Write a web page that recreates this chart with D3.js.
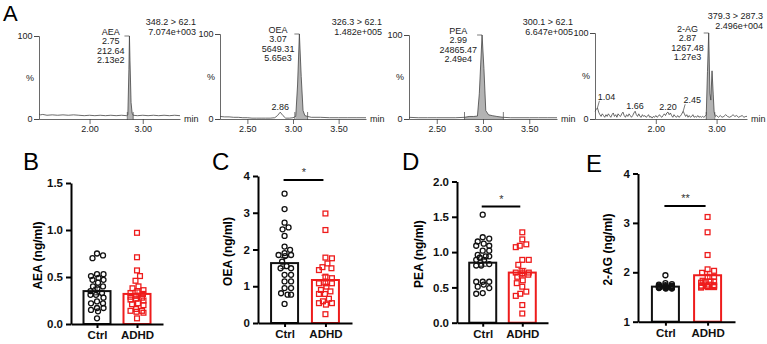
<!DOCTYPE html>
<html>
<head>
<meta charset="utf-8">
<script src="https://cdn.jsdelivr.net/npm/d3@7"></script>
<style>
  body { margin: 0; background: #fff; }
  svg { display: block; font-family: Arial, "Liberation Sans", sans-serif; }
</style>
</head>
<body>
<svg id="fig" width="767" height="344"></svg>
<script>
// ---------- panel A : MRM chromatograms, [time (min), intensity (%)] ----------
const aeaTrace = [[1.05,6],[1.08,5],[1.12,5.5],[1.2,4.5],[1.3,5],[1.4,4.5],[1.5,5],[1.6,4.5],[1.7,5],[1.8,4.5],[1.9,4],
  [2.0,4.5],[2.1,4],[2.2,4.5],[2.3,4],[2.4,4.5],[2.5,4],[2.6,4.5],[2.7,4],[2.72,5],[2.74,60],[2.75,100],[2.76,70],
  [2.78,20],[2.80,7],[2.82,4.5],[2.9,4],[3.0,4.5],[3.1,4],[3.2,4.5],[3.3,4],[3.4,4.5],[3.5,4],[3.6,4.5],[3.7,4]];
const oeaTrace = [[2.2,3],[2.25,2.5],[2.3,2.5],[2.35,2],[2.4,2],[2.45,1.5],[2.5,1.5],[2.55,1],[2.6,1],[2.65,1],[2.7,1],
  [2.75,1],[2.8,1.5],[2.83,4],[2.86,8],[2.89,4],[2.92,1],[2.96,1],[3.0,1.5],[3.03,3],[3.05,40],[3.07,100],[3.09,50],
  [3.11,10],[3.13,4],[3.16,3],[3.2,2],[3.3,2],[3.4,1.5],[3.5,1.5],[3.6,1.5],[3.7,1.5],[3.8,1.5]];
const peaTrace = [[2.2,2],[2.3,1.5],[2.4,1.5],[2.5,1.5],[2.6,1.5],[2.7,1.5],[2.8,2],[2.85,3],[2.9,3],[2.94,3.5],[2.96,30],
  [2.99,100],[3.01,60],[3.03,10],[3.06,5],[3.1,4],[3.15,3],[3.22,2],[3.3,1.5],[3.4,1.5],[3.5,1.5],[3.6,1.5],[3.7,1.5],[3.8,1.5]];
const agTrace = [[1.00,9],[1.02,11],[1.04,13],[1.06,8],[1.08,5],[1.10,3],[1.12,6],[1.14,4],[1.16,2],[1.18,5],[1.20,3],
  [1.22,6],[1.24,4],[1.26,2],[1.28,5],[1.30,7],[1.32,3],[1.34,5],[1.36,2],[1.38,6],[1.40,4],[1.42,3],[1.44,6],[1.46,8],
  [1.48,4],[1.50,2],[1.52,5],[1.54,3],[1.56,6],[1.58,4],[1.60,2],[1.62,4],[1.64,7],[1.66,9],[1.68,5],[1.70,3],[1.72,6],
  [1.74,3],[1.76,2],[1.78,5],[1.80,3],[1.82,4],[1.84,2],[1.86,3],[1.88,5],[1.90,2],[1.92,3],[1.94,1],[1.96,3],[1.98,2],
  [2.00,4],[2.02,2],[2.04,3],[2.06,5],[2.08,3],[2.10,2],[2.12,4],[2.14,6],[2.16,4],[2.18,7],[2.20,8],[2.22,5],[2.24,7],
  [2.26,4],[2.28,2],[2.30,5],[2.32,3],[2.34,2],[2.36,4],[2.38,2],[2.40,3],[2.42,5],[2.45,9],[2.47,6],[2.49,3],[2.51,5],
  [2.53,2],[2.55,4],[2.57,2],[2.59,3],[2.61,5],[2.63,2],[2.65,3],[2.67,2],[2.69,4],[2.71,2],[2.73,3],[2.75,2],[2.77,3],
  [2.79,2],[2.81,3],[2.83,5],[2.85,55],[2.87,100],[2.89,30],[2.905,22],[2.925,56],[2.945,28],[2.96,8],[2.98,3],[3.00,4],
  [3.03,2],[3.06,4],[3.09,2],[3.12,3],[3.15,5],[3.18,3],[3.21,2],[3.24,3],[3.27,5],[3.30,3],[3.33,4],[3.36,2],[3.39,3],
  [3.42,4],[3.45,2],[3.48,3],[3.50,3]];

const chromNames   = ["AEA", "OEA", "PEA", "2-AG"];
const chromRT      = [2.75, 3.07, 2.99, 2.87];
const chromArea    = ["212.64", "5649.31", "24865.47", "1267.48"];
const chromHeight  = ["2.13e2", "5.65e3", "2.49e4", "1.27e3"];
const chromMRM     = ["348.2 > 62.1", "326.3 > 62.1", "300.1 > 62.1", "379.3 > 287.3"];
const chromMax     = ["7.074e+003", "1.482e+005", "6.647e+005", "2.496e+004"];
const chromDomains = [[1.05, 3.7], [2.2, 3.8], [2.2, 3.8], [1.0, 3.5]];
const chromTicks   = [[2, 3], [2.5, 3, 3.5], [2.5, 3, 3.5], [2, 3]];
const chromFill    = [[2.71, 2.82], [3.02, 3.16], [2.80, 3.22], [2.83, 2.97]];
const minorPeaks   = [[], [2.86], [], [1.04, 1.66, 2.20, 2.45]];

// ---------- panels B-E : concentrations (ng/ml) ----------
const groups = ["Ctrl", "ADHD"];
const aeaCtrl = [0.75,0.73,0.70,0.53,0.51,0.53,0.49,0.47,0.47,0.44,0.40,0.40,0.38,0.35,0.33,0.31,0.31,0.28,0.24,0.22,0.22,0.17,0.15,0.17,0.135,0.06];
const aeaAdhd = [0.97,0.71,0.57,0.51,0.46,0.40,0.38,0.36,0.35,0.33,0.32,0.30,0.29,0.28,0.27,0.26,0.25,0.22,0.21,0.20,0.16,0.14,0.14,0.13,0.12,0.06];
const oeaCtrl = [3.52,3.10,2.73,2.60,2.55,2.37,2.08,1.99,1.90,1.85,1.85,1.82,1.67,1.55,1.49,1.49,1.31,1.31,1.13,1.13,0.95,0.95,0.81,0.77,0.77,0.52];
const oeaAdhd = [2.98,2.53,1.78,1.76,1.62,1.52,1.49,1.44,1.26,1.22,1.08,1.08,1.08,0.99,0.90,0.86,0.79,0.79,0.66,0.59,0.54,0.54,0.50,0.24];
const peaCtrl = [1.53,1.21,1.19,1.15,1.12,1.09,1.09,1.02,1.02,0.96,0.94,0.94,0.92,0.89,0.89,0.83,0.81,0.81,0.58,0.58,0.58,0.54,0.51,0.49,0.42,0.41];
const peaAdhd = [1.28,1.18,1.11,1.09,1.07,0.89,0.89,0.82,0.73,0.71,0.71,0.70,0.68,0.65,0.60,0.56,0.51,0.44,0.41,0.38,0.25,0.13];
const agCtrl  = [1.94,1.78,1.76,1.75,1.74,1.73,1.73,1.72,1.72,1.71,1.71,1.71,1.70,1.70,1.70,1.70,1.69,1.69,1.69,1.68,1.68,1.68,1.67,1.67];
const agAdhd  = [3.12,2.81,2.35,2.06,2.03,1.99,1.91,1.91,1.83,1.81,1.81,1.80,1.79,1.75,1.74,1.73,1.72,1.72,1.71,1.70,1.70,1.69];
// bar = mean, whisker = SEM  [Ctrl, ADHD]
const aeaMean = [0.35, 0.32], aeaSem = [0.04, 0.04];
const oeaMean = [1.63, 1.17], oeaSem = [0.15, 0.13];
const peaMean = [0.85, 0.71], peaSem = [0.05, 0.06];
const agMean  = [1.71, 1.94], agSem  = [0.01, 0.08];
const sigStars  = [null, "*", "*", "**"];
const sigLevels = [null, 3.89, 1.645, 3.34];

const svg = d3.select("#fig");
const RED = "#ee1c1c";

// panel letters
[["A", 3, 21, 22], ["B", 23, 170, 24], ["C", 212, 170, 24], ["D", 402, 170, 24], ["E", 586, 172, 24]]
  .forEach(([t, x, y, s]) => svg.append("text").attr("x", x).attr("y", y).attr("font-size", s).text(t));

// ---------------- chromatograms ----------------
const traces = [aeaTrace, oeaTrace, peaTrace, agTrace];
const chromX = [[39, 180], [220, 366], [409, 557], [595, 747]];
const chromTop = [36, 34, 35, 33];
const chromBottom = 119;
const minorStep = [0.1, 0.05, 0.05, 0.1];

traces.forEach((tr, i) => {
  const x = d3.scaleLinear().domain(chromDomains[i]).range(chromX[i]);
  const y = d3.scaleLinear().domain([0, 100]).range([chromBottom, chromTop[i]]);
  const g = svg.append("g").attr("font-size", 9).attr("fill", "#222");

  // shaded integrated peak
  const f = chromFill[i];
  g.append("path")
    .datum(tr.filter(d => d[0] >= f[0] && d[0] <= f[1]))
    .attr("fill", "#b3b3b3")
    .attr("d", d3.area().x(d => x(d[0])).y0(y(0)).y1(d => y(d[1])));
  f.forEach(t => g.append("line").attr("x1", x(t)).attr("x2", x(t))
    .attr("y1", y(0) + 1).attr("y2", y(0) - 7).attr("stroke", "#444").attr("stroke-width", 0.7));

  g.append("path").datum(tr)
    .attr("fill", "none").attr("stroke", "#444").attr("stroke-width", 0.8)
    .attr("d", d3.line().x(d => x(d[0])).y(d => y(d[1])));

  // y axis
  const ya = g.append("g").attr("transform", `translate(${chromX[i][0]},0)`);
  ya.call(d3.axisLeft(y).tickValues(d3.range(0, 101, 10)).tickSize(2.5).tickFormat(""));
  ya.call(d3.axisLeft(y).tickValues([0, 100]).tickSize(5).tickPadding(1.5));
  ya.selectAll("text").attr("font-size", 9).attr("fill", "#222");
  ya.selectAll("path,line").attr("stroke", "#444").attr("stroke-width", 0.8);
  g.append("text").attr("x", chromX[i][0] - 5).attr("y", y(50) + 3).attr("text-anchor", "end").text("%");

  // x axis
  const d0 = chromDomains[i][0], d1 = chromDomains[i][1], st = minorStep[i];
  const minor = d3.range(Math.ceil(d0 / st - 1e-6), Math.floor(d1 / st + 1e-6) + 1).map(k => +(k * st).toFixed(2));
  const xa = g.append("g").attr("transform", `translate(0,${chromBottom})`);
  xa.call(d3.axisBottom(x).tickValues(minor).tickSize(3).tickFormat("").tickSizeOuter(0));
  xa.call(d3.axisBottom(x).tickValues(chromTicks[i]).tickSize(5).tickPadding(2).tickFormat(d3.format(".2f")).tickSizeOuter(0));
  xa.selectAll("text").attr("font-size", 9).attr("fill", "#222");
  xa.selectAll("path,line").attr("stroke", "#444").attr("stroke-width", 0.8);
  g.append("text").attr("x", chromX[i][1] + 4).attr("y", chromBottom + 3).text("min");

  // transition + max intensity
  const rx = chromX[i][1] + 16;
  const ry = i === 3 ? 19 : 25;
  g.append("text").attr("x", rx).attr("y", ry).attr("text-anchor", "end").text(chromMRM[i]);
  g.append("text").attr("x", rx).attr("y", ry + 9.5).attr("text-anchor", "end").text(chromMax[i]);

  // main peak label
  const px = x(chromRT[i]), py = y(100);
  const lines = [chromNames[i], chromRT[i].toFixed(2), chromArea[i], chromHeight[i]];
  const lab = g.append("g");
  lines.forEach((t, k) => lab.append("text").attr("y", py - 1 + k * 9.4).attr("text-anchor", "middle").text(t));
  const w = d3.max(lab.selectAll("text").nodes(), n => n.getComputedTextLength());
  lab.attr("transform", `translate(${px - 5 - w / 2},0)`);
  g.append("line").attr("x1", px - 5).attr("x2", px).attr("y1", py).attr("y2", py)
    .attr("stroke", "#444").attr("stroke-width", 0.7);

  // small labelled peaks
  minorPeaks[i].forEach((rt, k) => {
    const pt = tr.reduce((a, b) => Math.abs(b[0] - rt) < Math.abs(a[0] - rt) ? b : a);
    const shift = (i === 3 && (k === 0 || k === 3)) ? 9 : 0;
    const lift = shift ? 8 : 2;
    const tx = x(rt) + shift, ty = y(pt[1]) - lift;
    g.append("text").attr("x", tx).attr("y", ty).attr("text-anchor", "middle").text(rt.toFixed(2));
    if (shift) {
      g.append("line").attr("x1", x(rt)).attr("y1", y(pt[1]))
        .attr("x2", tx - 7).attr("y2", ty + 1).attr("stroke", "#444").attr("stroke-width", 0.7);
    }
  });
});

// ---------------- bar + scatter panels ----------------
const barPanels = [
  { ctrl: aeaCtrl, adhd: aeaAdhd, mean: aeaMean, sem: aeaSem, dom: [0, 1.5], ticks: [0, 0.5, 1, 1.5], fmt: ".1f",
    label: "AEA (ng/ml)", x0: 71, x1: 163, top: 183, bottom: 324, lx: 42 },
  { ctrl: oeaCtrl, adhd: oeaAdhd, mean: oeaMean, sem: oeaSem, dom: [0, 4], ticks: [0, 1, 2, 3, 4], fmt: "d",
    label: "OEA (ng/ml)", x0: 258, x1: 352, top: 176, bottom: 323, lx: 232 },
  { ctrl: peaCtrl, adhd: peaAdhd, mean: peaMean, sem: peaSem, dom: [0, 2], ticks: [0, 0.5, 1, 1.5, 2], fmt: ".1f",
    label: "PEA (ng/ml)", x0: 457, x1: 548, top: 181.5, bottom: 322.7, lx: 423 },
  { ctrl: agCtrl, adhd: agAdhd, mean: agMean, sem: agSem, dom: [1, 4], ticks: [1, 2, 3, 4], fmt: "d",
    label: "2-AG (ng/ml)", x0: 638, x1: 735, top: 173.5, bottom: 321.7, lx: 612 }
];

// simple beeswarm: nearest free horizontal spot to the group centre
function swarm(values, y, cx, minD, maxOff) {
  const placed = [];
  values.map(v => ({ v, y: y(v) })).sort((a, b) => a.y - b.y).forEach(p => {
    let bestX = cx, bestCost = Infinity;
    for (let k = 0; k <= maxOff * 2; k++) {
      const off = (k % 2 ? 1 : -1) * Math.ceil(k / 2) * 0.5;
      const xx = cx + off;
      const cost = placed.reduce((s, q) => s + Math.max(0, minD - Math.hypot(q.x - xx, q.y - p.y)), 0);
      if (cost < bestCost - 1e-9) { bestCost = cost; bestX = xx; }
      if (cost === 0) break;
    }
    placed.push({ x: bestX, y: p.y, v: p.v });
  });
  return placed;
}

barPanels.forEach((P, i) => {
  const g = svg.append("g");
  const y = d3.scaleLinear().domain(P.dom).range([P.bottom, P.top]);
  const x = d3.scalePoint().domain(groups).range([P.x0, P.x1]).padding(0.65);
  const bw = 27;
  const colors = ["#111", RED];

  // bars
  groups.forEach((gname, k) => {
    g.append("rect").attr("x", x(gname) - bw / 2).attr("width", bw)
      .attr("y", y(P.mean[k])).attr("height", y(P.dom[0]) - y(P.mean[k]))
      .attr("fill", "none").attr("stroke", colors[k]).attr("stroke-width", 2);
  });

  // points
  const ctrlPts = swarm(P.ctrl, y, x("Ctrl"), 6.2, 13);
  g.selectAll(".c").data(ctrlPts).join("circle")
    .attr("cx", d => d.x).attr("cy", d => d.y).attr("r", 2.5)
    .attr("fill", "none").attr("stroke", "#111").attr("stroke-width", 1.3);
  const adhdPts = swarm(P.adhd, y, x("ADHD"), 6.2, 13);
  g.selectAll(".s").data(adhdPts).join("rect")
    .attr("x", d => d.x - 2.4).attr("y", d => d.y - 2.4).attr("width", 4.8).attr("height", 4.8)
    .attr("fill", "none").attr("stroke", RED).attr("stroke-width", 1.3);

  // SEM whiskers
  groups.forEach((gname, k) => {
    const cx = x(gname), lo = y(P.mean[k] - P.sem[k]), hi = y(P.mean[k] + P.sem[k]);
    g.append("path").attr("d", `M${cx},${lo}V${hi}M${cx - 4},${hi}H${cx + 4}M${cx - 4},${lo}H${cx + 4}`)
      .attr("fill", "none").attr("stroke", colors[k]).attr("stroke-width", 0.9);
  });

  // axes
  const ya = g.append("g").attr("transform", `translate(${P.x0},0)`)
    .call(d3.axisLeft(y).tickValues(P.ticks).tickSize(5).tickPadding(3).tickSizeOuter(0).tickFormat(d3.format(P.fmt)));
  const xa = g.append("g").attr("transform", `translate(0,${P.bottom})`)
    .call(d3.axisBottom(x).tickSize(4).tickPadding(3).tickSizeOuter(0));
  [ya, xa].forEach(a => {
    a.selectAll("path,line").attr("stroke", "#000").attr("stroke-width", 2);
    a.selectAll("text").attr("font-size", 11.5).attr("font-weight", "bold").attr("fill", "#111");
  });

  g.append("text").attr("transform", `translate(${P.lx},${(P.top + P.bottom) / 2 + 2}) rotate(-90)`)
    .attr("text-anchor", "middle").attr("font-size", 12).attr("font-weight", "bold").text(P.label);

  // significance bracket
  if (sigStars[i]) {
    const sy = y(sigLevels[i]);
    g.append("line").attr("x1", x("Ctrl") - 1).attr("x2", x("ADHD") - 2).attr("y1", sy).attr("y2", sy)
      .attr("stroke", "#000").attr("stroke-width", 2);
    g.append("text").attr("x", (x("Ctrl") + x("ADHD")) / 2 - 1).attr("y", sy - 4)
      .attr("text-anchor", "middle").attr("font-size", 11).attr("fill", "#333").text(sigStars[i]);
  }
});
</script>
</body>
</html>
